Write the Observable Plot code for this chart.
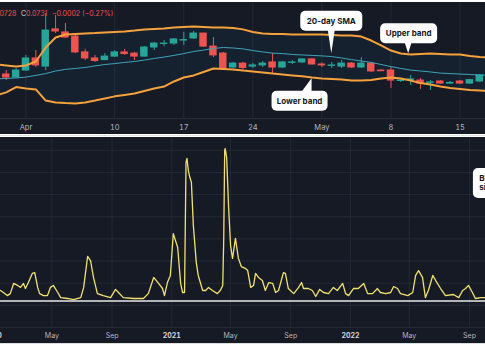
<!DOCTYPE html>
<html>
<head>
<meta charset="utf-8">
<script src="https://cdn.jsdelivr.net/npm/d3@7"></script>
<script src="https://cdn.jsdelivr.net/npm/@observablehq/plot@0.6"></script>
<style>
  html, body { margin:0; padding:0; background:#ffffff; }
  body { width:485px; height:360px; overflow:hidden; position:relative; font-family: Inter, "Noto Sans", sans-serif; }
  .panel { position:absolute; left:0; width:485px; background:#161a25; overflow:hidden; }
  #top { top:2px; height:132px; }
  #bottom { top:137px; height:206px; }
  #sepline { position:absolute; left:0; top:135px; width:485px; height:1px; background:#e2e3e6; }
  #foot { position:absolute; left:0; top:343px; width:485px; height:1px; background:#dcdcdc; }
</style>
</head>
<body>
<div id="top" class="panel"></div>
<div id="sepline"></div>
<div id="bottom" class="panel"></div>
<div id="foot"></div>
<script>
// ---------- colours ----------
const GREEN = "#26a69a", RED = "#ef5350", ORANGE = "#f5a23d", SMA_COLOR = "#3ea3b8";
const YELLOW = "#f1e26d", BG = "#161a25", GRID = "#242835", TICK = "#b2b5be";

// ---------- top panel data (daily candles) ----------
const candleDates = ["2023-03-30","2023-03-31","2023-04-01","2023-04-02","2023-04-03","2023-04-04","2023-04-05","2023-04-06","2023-04-07","2023-04-08","2023-04-09","2023-04-10","2023-04-11","2023-04-12","2023-04-13","2023-04-14","2023-04-15","2023-04-16","2023-04-17","2023-04-18","2023-04-19","2023-04-20","2023-04-21","2023-04-22","2023-04-23","2023-04-24","2023-04-25","2023-04-26","2023-04-27","2023-04-28","2023-04-29","2023-04-30","2023-05-01","2023-05-02","2023-05-03","2023-05-04","2023-05-05","2023-05-06","2023-05-07","2023-05-08","2023-05-09","2023-05-10","2023-05-11","2023-05-12","2023-05-13","2023-05-14","2023-05-15","2023-05-16","2023-05-17"];
const opens  = [0.0742,0.0729,0.0759,0.0811,0.0776,0.0936,0.0923,0.0905,0.0837,0.0811,0.0804,0.0819,0.0837,0.0832,0.0819,0.0858,0.0873,0.0875,0.0888,0.0897,0.0918,0.0862,0.0832,0.0772,0.0789,0.0776,0.0781,0.0794,0.0772,0.0792,0.0794,0.0807,0.0785,0.0779,0.0776,0.0789,0.0772,0.0789,0.0759,0.0759,0.0714,0.0718,0.0716,0.0706,0.0712,0.0703,0.0712,0.0703,0.0712];
const highs  = [0.0759,0.0768,0.0824,0.0845,0.1004,0.0996,0.0961,0.0910,0.0850,0.0824,0.0832,0.0845,0.0850,0.0837,0.0862,0.0880,0.0888,0.0897,0.0923,0.0927,0.0920,0.0901,0.0837,0.0794,0.0794,0.0789,0.0798,0.0832,0.0798,0.0802,0.0811,0.0811,0.0792,0.0794,0.0802,0.0794,0.0815,0.0794,0.0764,0.0772,0.0725,0.0738,0.0725,0.0716,0.0716,0.0712,0.0716,0.0721,0.0742];
const lows   = [0.0716,0.0725,0.0755,0.0772,0.0759,0.0918,0.0897,0.0832,0.0802,0.0794,0.0802,0.0815,0.0824,0.0802,0.0817,0.0845,0.0862,0.0867,0.0867,0.0893,0.0858,0.0815,0.0759,0.0768,0.0759,0.0768,0.0772,0.0746,0.0768,0.0785,0.0789,0.0783,0.0772,0.0768,0.0768,0.0768,0.0768,0.0751,0.0755,0.0682,0.0708,0.0695,0.0678,0.0673,0.0699,0.0699,0.0699,0.0699,0.0708];
const closes = [0.0729,0.0759,0.0811,0.0781,0.0931,0.0927,0.0901,0.0837,0.0811,0.0800,0.0819,0.0837,0.0830,0.0819,0.0858,0.0875,0.0875,0.0893,0.0890,0.0918,0.0862,0.0824,0.0768,0.0789,0.0770,0.0781,0.0789,0.0772,0.0794,0.0794,0.0807,0.0785,0.0781,0.0781,0.0789,0.0772,0.0789,0.0755,0.0756,0.0716,0.0716,0.0721,0.0703,0.0708,0.0703,0.0706,0.0703,0.0718,0.0738];

// Bollinger bands (20-day SMA ± 2σ)
const bandDates = ["2023-03-29","2023-03-30","2023-03-31","2023-04-01","2023-04-02","2023-04-03","2023-04-04","2023-04-05","2023-04-06","2023-04-07","2023-04-08","2023-04-09","2023-04-10","2023-04-11","2023-04-12","2023-04-13","2023-04-14","2023-04-15","2023-04-16","2023-04-17","2023-04-18","2023-04-19","2023-04-20","2023-04-21","2023-04-22","2023-04-23","2023-04-24","2023-04-25","2023-04-26","2023-04-27","2023-04-28","2023-04-29","2023-04-30","2023-05-01","2023-05-02","2023-05-03","2023-05-04","2023-05-05","2023-05-06","2023-05-07","2023-05-08","2023-05-09","2023-05-10","2023-05-11","2023-05-12","2023-05-13","2023-05-14","2023-05-15","2023-05-16","2023-05-17","2023-05-18"];
const upperBand = [0.0785,0.0781,0.0776,0.0781,0.0798,0.0858,0.0901,0.0914,0.0916,0.0918,0.0920,0.0923,0.0925,0.0927,0.0931,0.0936,0.0938,0.0940,0.0944,0.0946,0.0948,0.0946,0.0944,0.0944,0.0942,0.0936,0.0925,0.0918,0.0916,0.0916,0.0914,0.0914,0.0914,0.0914,0.0912,0.0910,0.0910,0.0905,0.0888,0.0867,0.0845,0.0832,0.0828,0.0830,0.0832,0.0830,0.0828,0.0828,0.0822,0.0817,0.0815];
const smaLine   = [0.0723,0.0725,0.0727,0.0731,0.0738,0.0746,0.0757,0.0764,0.0768,0.0772,0.0779,0.0785,0.0789,0.0794,0.0798,0.0804,0.0811,0.0817,0.0824,0.0832,0.0841,0.0847,0.0854,0.0858,0.0856,0.0852,0.0845,0.0839,0.0834,0.0832,0.0828,0.0826,0.0824,0.0822,0.0819,0.0813,0.0806,0.0800,0.0794,0.0785,0.0776,0.0768,0.0761,0.0757,0.0753,0.0748,0.0746,0.0744,0.0742,0.0740,0.0738];
const lowerBand = [0.0652,0.0665,0.0688,0.0682,0.0678,0.0630,0.0622,0.0619,0.0617,0.0622,0.0630,0.0639,0.0648,0.0654,0.0660,0.0671,0.0682,0.0690,0.0712,0.0729,0.0738,0.0753,0.0768,0.0766,0.0764,0.0759,0.0755,0.0751,0.0746,0.0742,0.0738,0.0734,0.0729,0.0725,0.0723,0.0721,0.0716,0.0716,0.0718,0.0725,0.0729,0.0725,0.0716,0.0705,0.0699,0.0690,0.0684,0.0680,0.0675,0.0673,0.0671];

const topTickDates  = ["2023-04-01","2023-04-10","2023-04-17","2023-04-24","2023-05-01","2023-05-08","2023-05-15"];
const topTickLabels = ["Apr","10","17","24","May","8","15"];

const headerLow = "0.0728", headerClose = "0.0731", headerChange = "\u22120.0002 (\u22120.27%)";

// ---------- bottom panel data (Bollinger Band Width) ----------
const bbwDates = ["2020-01-17","2020-01-23","2020-01-31","2020-02-06","2020-02-13","2020-02-21","2020-02-27","2020-03-04","2020-03-08","2020-03-14","2020-03-22","2020-03-27","2020-04-02","2020-04-06","2020-04-14","2020-04-22","2020-04-28","2020-05-04","2020-05-13","2020-05-19","2020-06-02","2020-06-14","2020-06-29","2020-07-05","2020-07-13","2020-07-19","2020-07-25","2020-08-02","2020-08-14","2020-08-29","2020-09-08","2020-09-14","2020-09-24","2020-10-15","2020-11-04","2020-11-14","2020-11-25","2020-12-05","2020-12-13","2020-12-17","2020-12-23","2020-12-29","2021-01-04","2021-01-13","2021-01-19","2021-01-23","2021-01-27","2021-01-30","2021-02-01","2021-02-04","2021-02-07","2021-02-10","2021-02-14","2021-02-20","2021-02-24","2021-03-05","2021-03-11","2021-03-17","2021-03-25","2021-04-04","2021-04-10","2021-04-15","2021-04-17","2021-04-19","2021-04-20","2021-04-23","2021-04-27","2021-05-01","2021-05-05","2021-05-11","2021-05-17","2021-05-23","2021-06-01","2021-06-05","2021-06-11","2021-06-17","2021-06-21","2021-06-27","2021-07-05","2021-07-11","2021-07-18","2021-07-26","2021-08-01","2021-08-07","2021-08-17","2021-08-21","2021-08-27","2021-09-07","2021-09-17","2021-09-23","2021-09-27","2021-10-07","2021-10-15","2021-10-22","2021-10-30","2021-11-07","2021-11-17","2021-11-27","2021-12-05","2021-12-16","2021-12-22","2021-12-28","2022-01-07","2022-01-17","2022-01-28","2022-02-05","2022-02-15","2022-02-25","2022-03-03","2022-03-14","2022-03-24","2022-03-30","2022-04-07","2022-04-13","2022-04-28","2022-05-08","2022-05-14","2022-05-20","2022-05-28","2022-06-03","2022-06-09","2022-06-18","2022-06-24","2022-07-04","2022-07-14","2022-07-30","2022-08-10","2022-08-18","2022-08-24","2022-08-30","2022-09-07","2022-09-13","2022-09-24","2022-10-04"];
const bbwValues = [1.67,1.58,1.44,1.53,1.99,1.90,1.81,1.99,1.76,2.03,
  2.44,2.48,1.81,1.53,1.44,1.44,1.81,1.90,1.58,1.35,
  1.31,1.26,1.35,1.81,3.21,3.02,2.26,1.53,1.44,1.35,
  1.72,1.58,1.35,1.31,1.31,1.53,2.26,1.99,1.76,1.44,
  2.03,2.35,4.24,3.61,1.99,1.58,1.58,7.45,7.63,7.04,
  6.77,6.55,4.60,2.93,2.35,1.67,1.67,1.81,1.67,1.53,
  1.67,1.90,3.93,7.99,8.08,7.67,5.42,3.70,3.12,4.02,
  3.12,2.75,2.66,2.57,1.81,1.90,2.44,2.26,2.12,1.67,
  2.03,1.99,1.58,1.67,2.48,2.44,1.76,1.53,1.81,2.03,
  1.76,1.76,1.67,1.40,1.72,1.58,1.53,1.81,1.67,1.99,
  1.53,1.44,1.76,1.76,1.99,1.53,1.53,1.76,1.58,1.53,
  1.58,1.85,1.76,1.53,1.44,1.58,2.35,2.57,2.26,1.35,
  1.67,2.35,2.12,1.76,1.44,1.49,1.35,1.67,1.76,1.90,
  1.58,1.31,1.35,1.35];
const squeezeLevel = 1.2;
const bbwGridTicks = [0,1,2,3,4,5,6,7,8];

const monthTickDates  = ["2020-05-01","2020-09-01","2021-05-01","2021-09-01","2022-05-01","2022-09-01"];
const monthTickLabels = ["May","Sep","May","Sep","May","Sep"];
const yearTickDates   = ["2020-01-01","2021-01-01","2022-01-01"];
const yearTickLabels  = ["2020","2021","2022"];

// ---------- annotations ----------
const callouts = [
  {text:"20-day SMA", date:"2023-05-02T00:00:00Z", price:0.0831, dx:0, dy:-32.5, w:62, h:20, base:[-3.5,3.5]},
  {text:"Upper band", date:"2023-05-09T19:00:00Z", price:0.0831, dx:0.5, dy:-20, w:57, h:20, base:[-3.5,3.5]},
  {text:"Lower band", date:"2023-04-30T00:00:00Z", price:0.07235, dx:-12, dy:22.5, w:56, h:20, base:[-10,0]}
];
const sideNote = {lines:["BBW","signal"], date:"2022-09-09", value:7.18, w:40, h:30};

// ---------- build tables ----------
const candles = candleDates.map((d,i)=>({date:new Date(d), open:opens[i], high:highs[i], low:lows[i], close:closes[i]}));
const bands = bandDates.map((d,i)=>({date:new Date(d), upper:upperBand[i], sma:smaLine[i], lower:lowerBand[i]}));
const bbw = bbwDates.map((d,i)=>({date:new Date(d), value:bbwValues[i]}));
const candleColor = d => d.close >= d.open ? GREEN : RED;
const HALF_DAY = 12*3600*1000;

const topTicks = topTickDates.map(d=>new Date(d));
const topLabelMap = new Map(topTicks.map((d,i)=>[+d, topTickLabels[i]]));
const monthTicks = monthTickDates.map(d=>new Date(d));
const monthLabelMap = new Map(monthTicks.map((d,i)=>[+d, monthTickLabels[i]]));
const yearTicks = yearTickDates.map(d=>new Date(d));
const yearLabelMap = new Map(yearTicks.map((d,i)=>[+d, yearTickLabels[i]]));

// ---------- top chart ----------
const topPlot = Plot.plot({
  width:485, height:132, marginTop:0, marginBottom:16, marginLeft:0, marginRight:0,
  style:{background:BG, fontFamily:"Inter, 'Noto Sans', sans-serif", fontSize:"7.5px", overflow:"hidden"},
  x:{type:"utc", domain:[new Date(Date.UTC(2023,2,29,10)), new Date(Date.UTC(2023,4,17,14))]},
  y:{domain:[0.05528, 0.10516], axis:null},
  color:{type:"identity"},
  marks:[
    Plot.gridX(topTicks, {stroke:GRID, strokeOpacity:1}),
    Plot.ruleY([0.05528], {stroke:"#2a2e39"}),
    Plot.areaY(bands, {x:"date", y1:"lower", y2:"upper", fill:"#2196f3", fillOpacity:0.06}),
    Plot.ruleX(candles, {x:"date", y1:"low", y2:"high", stroke:candleColor, strokeWidth:1}),
    Plot.rect(candles, {x1:d=>new Date(+d.date-HALF_DAY), x2:d=>new Date(+d.date+HALF_DAY), y1:"open", y2:"close", fill:candleColor, insetLeft:1.2, insetRight:1.2, insetTop:-0.5, insetBottom:-0.5}),
    Plot.lineY(bands, {x:"date", y:"sma", stroke:SMA_COLOR, strokeWidth:1}),
    Plot.lineY(bands, {x:"date", y:"upper", stroke:ORANGE, strokeWidth:2}),
    Plot.lineY(bands, {x:"date", y:"lower", stroke:ORANGE, strokeWidth:2}),
    Plot.axisX(topTicks, {tickSize:0, tickPadding:6, tickFormat:d=>topLabelMap.get(+d), fill:TICK})
  ]
});
document.getElementById("top").appendChild(topPlot);

// header (OHLC readout), one flowing text line
{
  const t = d3.select(topPlot).append("text").attr("x",-10.5).attr("y",13.7).attr("text-anchor","start")
    .attr("font-size",7).attr("font-family","Inter, sans-serif");
  t.append("tspan").attr("fill","#d1d4dc").text("L");
  t.append("tspan").attr("fill",RED).text(headerLow);
  t.append("tspan").attr("fill","#d1d4dc").attr("dx",4.5).text("C");
  t.append("tspan").attr("fill",RED).text(headerClose);
  t.append("tspan").attr("fill",RED).attr("dx",4.5).text(headerChange);
}

// callouts
{
  const xs = topPlot.scale("x"), ys = topPlot.scale("y");
  const g = d3.select(topPlot).append("g");
  for (const c of callouts) {
    const tx = xs.apply(new Date(c.date)), ty = ys.apply(c.price);
    const cx = tx + c.dx, cy = ty + c.dy;
    const x0 = cx - c.w/2, y0 = cy - c.h/2;
    const by = c.dy < 0 ? y0 + c.h - 1 : y0 + 1;
    g.append("path").attr("d", `M${tx+c.base[0]},${by}L${tx+c.base[1]},${by}L${tx},${ty}Z`).attr("fill","#ffffff");
    g.append("rect").attr("x",x0).attr("y",y0).attr("width",c.w).attr("height",c.h).attr("rx",5).attr("fill","#ffffff");
    g.append("text").attr("x",cx).attr("y",cy).attr("dy","0.35em").attr("text-anchor","middle")
      .attr("font-size",8).attr("font-weight","bold").attr("font-family","Inter, sans-serif").attr("fill","#131722").text(c.text);
  }
}

// ---------- bottom chart ----------
const bottomPlot = Plot.plot({
  width:485, height:206, marginTop:0, marginBottom:16, marginLeft:0, marginRight:0,
  style:{background:BG, fontFamily:"Inter, 'Noto Sans', sans-serif", fontSize:"7px", overflow:"hidden"},
  x:{type:"utc", domain:[new Date(Date.UTC(2020,0,17,2)), new Date(Date.UTC(2022,9,3,17))]},
  y:{domain:[0, 8.578], axis:null},
  marks:[
    Plot.gridX([...yearTicks, ...monthTicks], {stroke:GRID, strokeOpacity:1}),
    Plot.gridY(bbwGridTicks, {stroke:GRID, strokeOpacity:1}),
    Plot.ruleY([squeezeLevel], {stroke:"#e8e8ea", strokeWidth:1.5}),
    Plot.lineY(bbw, {x:"date", y:"value", stroke:YELLOW, strokeWidth:1.3}),
    Plot.axisX(monthTicks, {tickSize:0, tickPadding:6, tickFormat:d=>monthLabelMap.get(+d), fill:TICK}),
    Plot.axisX(yearTicks, {tickSize:0, tickPadding:6, tickFormat:d=>yearLabelMap.get(+d), fill:"#d1d4dc", fontWeight:"bold"})
  ]
});
document.getElementById("bottom").appendChild(bottomPlot);

{
  const xs = bottomPlot.scale("x"), ys = bottomPlot.scale("y");
  const x0 = xs.apply(new Date(sideNote.date)), y0 = ys.apply(sideNote.value);
  const g = d3.select(bottomPlot).append("g");
  g.append("rect").attr("x",x0).attr("y",y0).attr("width",sideNote.w).attr("height",sideNote.h).attr("rx",5).attr("fill","#ffffff");
  sideNote.lines.forEach((s,i)=>{
    g.append("text").attr("x",x0+6.3).attr("y",y0+13.5+i*8.5).attr("text-anchor","start").attr("font-size",8).attr("font-weight","bold")
      .attr("font-family","Inter, sans-serif").attr("fill","#131722").text(s);
  });
}
</script>
</body>
</html>
